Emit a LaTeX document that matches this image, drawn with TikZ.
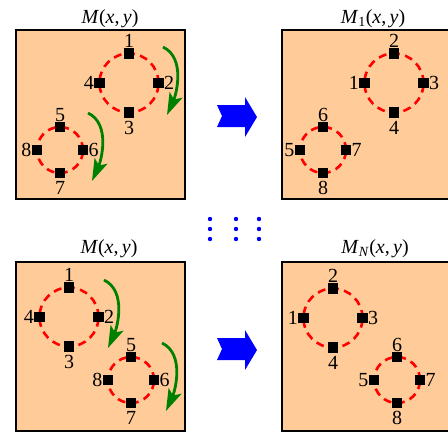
\documentclass[tikz,border=0pt]{standalone}
\usepackage{fontspec}
\setmainfont{Liberation Serif}
\usetikzlibrary{arrows.meta, positioning}
\definecolor{mappeach}{HTML}{FFCC99}
\definecolor{ringred}{HTML}{FF0000}
\definecolor{turngreen}{HTML}{008000}
\definecolor{stepblue}{HTML}{0000FF}

\begin{document}
\begin{tikzpicture}[
  x=1pt, y=-1pt,
  every node/.style={font=\fontsize{20}{24}\selectfont},
  every label/.style={inner sep=0pt, font=\fontsize{20}{24}\selectfont},
  label distance=0pt,
  mapbox/.style={rectangle, draw=black, fill=mappeach, line width=2pt, minimum width=169pt, minimum height=169pt},
  pixel/.style={rectangle, fill=black, minimum size=10.5pt, inner sep=0pt},
  ring/.style={draw=ringred, line width=2.6pt, dash pattern=on 8pt off 5.5pt},
  turn/.style={draw=turngreen, line width=2.8pt, -{Stealth[length=22pt, width=14pt, inset=5pt]}},
  maptitle/.style={anchor=base, inner sep=0pt},
]
\clip (0,0) rectangle (448,437);

% Top left: original map
\node[maptitle] (titleA) at (110,23) {\textit{M}(\textit{x},\,\textit{y})};
\node[mapbox] (mapA) at (100.5,114) {};
\draw[ring] (129,83) circle (29.5pt);
\draw[ring] (60,150) circle (23pt);
\node[pixel, label=above:1] (a1) at (129,53.5) {};
\node[pixel, label=right:2] (a2) at (158.5,83) {};
\node[pixel, label={[yshift=-3pt]below:3}] (a3) at (129,112.5) {};
\node[pixel, label=left:4] (a4) at (99.5,83) {};
\node[pixel, label=above:5] (a5) at (60,127) {};
\node[pixel, label=right:6] (a6) at (83,150) {};
\node[pixel, label={[yshift=-3pt]below:7}] (a7) at (60,173) {};
\node[pixel, label=left:8] (a8) at (37,150) {};
\draw[turn] (163,47) .. controls (186,58) and (176,95) .. (167,115);
\draw[turn] (88,113) .. controls (111,124) and (101,161) .. (92,181);

% Top right: first rotated map
\node[maptitle] (titleB) at (373,23) {\textit{M}\textsubscript{1}(\textit{x},\,\textit{y})};
\node[mapbox] (mapB) at (366.5,114) {};
\draw[ring] (394,83) circle (29.5pt);
\draw[ring] (323,150) circle (23pt);
\node[pixel, label=left:1] (b1) at (364.5,83) {};
\node[pixel, label=above:2] (b2) at (394,53.5) {};
\node[pixel, label=right:3] (b3) at (423.5,83) {};
\node[pixel, label={[yshift=-3pt]below:4}] (b4) at (394,112.5) {};
\node[pixel, label=left:5] (b5) at (300,150) {};
\node[pixel, label=above:6] (b6) at (323,127) {};
\node[pixel, label=right:7] (b7) at (346,150) {};
\node[pixel, label={[yshift=-3pt]below:8}] (b8) at (323,173) {};

% Bottom left: original map again
\node[maptitle] (titleC) at (109,253) {\textit{M}(\textit{x},\,\textit{y})};
\node[mapbox] (mapC) at (100.5,346) {};
\draw[ring] (69,317) circle (29.5pt);
\draw[ring] (131,380) circle (23pt);
\node[pixel, label=above:1] (c1) at (69,287.5) {};
\node[pixel, label=right:2] (c2) at (98.5,317) {};
\node[pixel, label={[yshift=-3pt]below:3}] (c3) at (69,346.5) {};
\node[pixel, label=left:4] (c4) at (39.5,317) {};
\node[pixel, label=above:5] (c5) at (131,357) {};
\node[pixel, label=right:6] (c6) at (154,380) {};
\node[pixel, label={[yshift=-3pt]below:7}] (c7) at (131,403) {};
\node[pixel, label=left:8] (c8) at (108,380) {};
\draw[turn] (104,280) .. controls (127,291) and (117,328) .. (108,348);
\draw[turn] (162,343) .. controls (185,354) and (175,391) .. (166,411);

% Bottom right: last rotated map
\node[maptitle] (titleD) at (375,253) {\textit{M}\textsubscript{\textit{N}}(\textit{x},\,\textit{y})};
\node[mapbox] (mapD) at (366.5,346) {};
\draw[ring] (333,318) circle (29.5pt);
\draw[ring] (397,380) circle (23pt);
\node[pixel, label=left:1] (d1) at (303.5,318) {};
\node[pixel, label=above:2] (d2) at (333,288.5) {};
\node[pixel, label=right:3] (d3) at (362.5,318) {};
\node[pixel, label={[yshift=-3pt]below:4}] (d4) at (333,347.5) {};
\node[pixel, label=left:5] (d5) at (374,380) {};
\node[pixel, label=above:6] (d6) at (397,357) {};
\node[pixel, label=right:7] (d7) at (420,380) {};
\node[pixel, label={[yshift=-3pt]below:8}] (d8) at (397,403) {};

% Block arrows and dots
\fill[stepblue] (217,105) -- (245,105) -- (245,97) -- (257,117) -- (245,137) -- (245,127) -- (217,127) -- (222,116) -- cycle;
\fill[stepblue] (217,338) -- (245,338) -- (245,330) -- (257,350) -- (245,370) -- (245,360) -- (217,360) -- (222,349) -- cycle;
\fill[stepblue] (210,219) circle (2.2pt) (210,229) circle (2.2pt) (210,239) circle (2.2pt);
\fill[stepblue] (236,219) circle (2.2pt) (236,229) circle (2.2pt) (236,239) circle (2.2pt);
\fill[stepblue] (259,219) circle (2.2pt) (259,229) circle (2.2pt) (259,239) circle (2.2pt);

\end{tikzpicture}
\end{document}
